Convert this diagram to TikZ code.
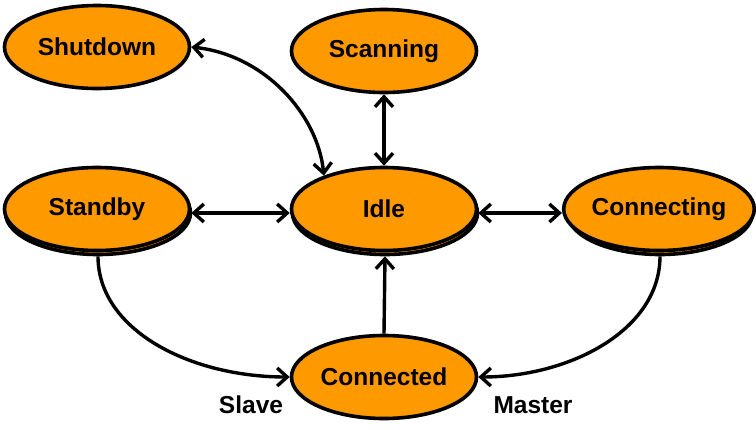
\documentclass[tikz,border=0pt]{standalone}
\usepackage{fontspec}
\setmainfont{Liberation Sans}
\usetikzlibrary{shapes.geometric,arrows.meta}
\definecolor{orng}{RGB}{255,153,0}
\begin{document}
\begin{tikzpicture}[x=1pt,y=-1pt,
  >={Straight Barb[length=10pt,width=18pt]},
  st/.style={ellipse, draw=black, line width=3.6pt, fill=orng,
    minimum width=185pt, minimum height=83pt, inner sep=0pt,
    font=\bfseries\fontsize{24.5}{28}\selectfont},
  lbl/.style={inner sep=0pt, font=\bfseries\fontsize{24.5}{28}\selectfont},
  con/.style={line width=3.4pt, draw=black}]
\useasboundingbox (0,0) rectangle (756,429);
\node[st] (shutdown) at (97,47) {Shutdown};
\node[st] (scanning) at (384,51) {Scanning};
\node[st] (standbys) at (98,213) {};
\node[st] (standby) at (97,209) {Standby};
\node[st] (idles) at (385,213) {};
\node[st] (idle) at (384,209) {Idle};
\node[st] (connectings) at (660,213) {};
\node[st] (connecting) at (659,209) {Connecting};
\node[st] (connected) at (384,377) {Connected};
\node[lbl] (slave) at (251,405) {Slave};
\node[lbl] (master) at (533,405) {Master};
\draw[con,<->] (shutdown.east) .. controls (265,55) and (318,115) .. (idle.151);
\draw[con,<->] (scanning.south) -- (idle.north);
\draw[con,<->] ([yshift=-4pt]standby.east) -- ([yshift=-4pt]idle.west);
\draw[con,<->] ([yshift=-4pt]idle.east) -- ([yshift=-4pt]connecting.west);
\draw[con,->] (connected.north) -- (idles.south);
\draw[con,->] (standbys.south) .. controls (98,330) and (190,377) .. (connected.west);
\draw[con,->] (connectings.south) .. controls (660,330) and (570,377) .. (connected.east);
\end{tikzpicture}
\end{document}
